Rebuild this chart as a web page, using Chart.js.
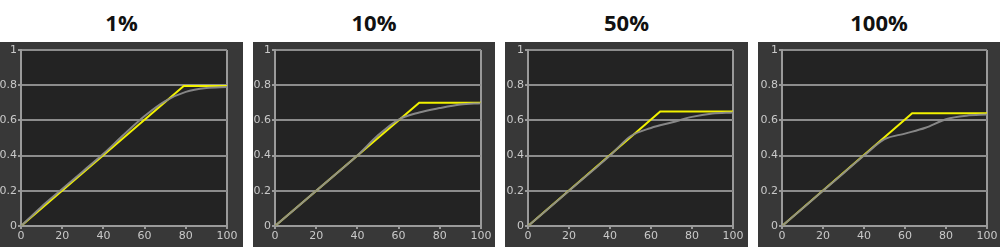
<!DOCTYPE html>
<html>
<head>
<meta charset="utf-8">
<script src="https://cdn.jsdelivr.net/npm/chart.js@4"></script>
<style>
  html, body { margin: 0; padding: 0; background: #ffffff; width: 1000px; height: 247px; overflow: hidden; }
  .title { position: absolute; top: 7px; width: 243px; text-align: center; font-family: "Open Sans", "Liberation Sans", sans-serif; font-weight: bold; font-size: 22px; color: #111; line-height: 30px; }
  .panel { position: absolute; top: 42px; height: 205px; background: #383838; }
  .panel canvas { position: absolute; left: 0; top: 0; }
</style>
</head>
<body>
<script>
// ---- data ----
const panelTitles = ['1%', '10%', '50%', '100%'];
const measuredX = [0, 10, 20, 30, 40, 50, 60, 70, 80, 90, 100];
const measured1 = [0, 0.11, 0.21, 0.31, 0.41, 0.52, 0.625, 0.71, 0.762, 0.784, 0.79];
const measured10 = [0, 0.10, 0.20, 0.30, 0.40, 0.515, 0.605, 0.645, 0.670, 0.690, 0.698];
const measured50 = [0, 0.10, 0.20, 0.30, 0.40, 0.51, 0.557, 0.588, 0.62, 0.639, 0.645];
const measured100 = [0, 0.10, 0.20, 0.30, 0.40, 0.493, 0.525, 0.558, 0.607, 0.627, 0.633];
const targetX1 = [0, 79, 100];
const target1 = [0, 0.795, 0.795];
const targetX10 = [0, 70, 100];
const target10 = [0, 0.70, 0.70];
const targetX50 = [0, 64.5, 100];
const target50 = [0, 0.65, 0.65];
const targetX100 = [0, 63.5, 100];
const target100 = [0, 0.64, 0.64];
const xTicks = [0, 20, 40, 60, 80, 100];
const yTicks = [0, 0.2, 0.4, 0.6, 0.8, 1];

const measuredSets = [measured1, measured10, measured50, measured100];
const targetXs = [targetX1, targetX10, targetX50, targetX100];
const targetYs = [target1, target10, target50, target100];

// ---- layout ----
const panelLeft = [0, 253, 505, 758];
const panelWidth = [243, 242, 243, 242];
const plotOffset = [21, 22, 23, 24];
const plotRightPad = [16, 14, 15, 13];
const panelHeight = 205;

const plotBg = {
  id: 'plotBg',
  beforeDraw(chart) {
    const a = chart.chartArea, c = chart.ctx;
    c.save();
    c.fillStyle = '#232323';
    c.fillRect(a.left, a.top, a.right - a.left, a.bottom - a.top);
    c.restore();
  }
};

panelTitles.forEach((t, i) => {
  const title = document.createElement('div');
  title.className = 'title';
  title.style.left = panelLeft[i] + 'px';
  title.style.width = panelWidth[i] + 'px';
  title.textContent = t;
  document.body.appendChild(title);

  const panel = document.createElement('div');
  panel.className = 'panel';
  panel.style.left = panelLeft[i] + 'px';
  panel.style.width = panelWidth[i] + 'px';
  const cv = document.createElement('canvas');
  cv.width = panelWidth[i];
  cv.height = panelHeight;
  cv.style.width = panelWidth[i] + 'px';
  cv.style.height = panelHeight + 'px';
  panel.appendChild(cv);
  document.body.appendChild(panel);

  const measured = measuredX.map((x, k) => ({ x: x, y: measuredSets[i][k] }));
  const target = targetXs[i].map((x, k) => ({ x: x, y: targetYs[i][k] }));

  new Chart(cv.getContext('2d'), {
    type: 'line',
    data: {
      datasets: [
        { data: target, borderColor: '#f2f200', borderWidth: 2, pointRadius: 0, tension: 0, order: 2 },
        { data: measured, borderColor: 'rgba(140,140,140,0.95)', borderWidth: 2, pointRadius: 0, cubicInterpolationMode: 'monotone', order: 1 }
      ]
    },
    options: {
      responsive: false,
      animation: false,
      devicePixelRatio: 1,
      layout: { padding: { left: 0, right: plotRightPad[i], top: 8, bottom: 0 } },
      plugins: { legend: { display: false }, tooltip: { enabled: false } },
      scales: {
        x: {
          type: 'linear', min: 0, max: 100,
          afterFit(s) { s.height = 21; },
          afterBuildTicks(s) { s.ticks = xTicks.map(v => ({ value: v })); },
          ticks: { color: '#c9c9c9', font: { family: 'DejaVu Sans', size: 11 }, padding: 1, maxRotation: 0 },
          grid: {
            color: ctx => (ctx.tick && (ctx.tick.value === 0 || ctx.tick.value === 100)) ? '#9a9a9a' : 'rgba(0,0,0,0)',
            tickColor: '#9a9a9a', tickLength: 3, lineWidth: 2, drawOnChartArea: true
          },
          border: { display: true, color: '#9a9a9a', width: 2 }
        },
        y: {
          type: 'linear', min: 0, max: 1,
          afterFit(s) { s.width = plotOffset[i]; },
          afterBuildTicks(s) { s.ticks = yTicks.map(v => ({ value: v })); },
          ticks: { color: '#c9c9c9', font: { family: 'DejaVu Sans', size: 11 }, padding: 1, callback: v => String(v) },
          grid: { color: '#8c8c8c', tickColor: '#9a9a9a', tickLength: 3, lineWidth: 2 },
          border: { display: true, color: '#9a9a9a', width: 2 }
        }
      }
    },
    plugins: [plotBg]
  });
});
</script>
</body>
</html>
